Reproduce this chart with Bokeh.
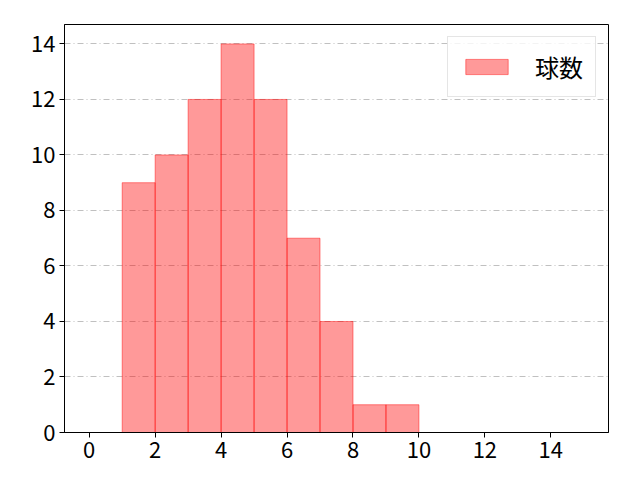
from bokeh.plotting import figure
from bokeh.models import Range1d, FixedTicker, Legend, LegendItem
from bokeh.embed import file_html
from bokeh.resources import INLINE

bin_left = [1, 2, 3, 4, 5, 6, 7, 8, 9]
bin_right = [2, 3, 4, 5, 6, 7, 8, 9, 10]
counts = [9, 10, 12, 14, 12, 7, 4, 1, 1]
x_ticks = [0, 2, 4, 6, 8, 10, 12, 14]
y_ticks = [0, 2, 4, 6, 8, 10, 12, 14]
label = "球数"

FONT = "Noto Sans CJK JP"

p = figure(width=632, height=472, output_backend="svg", toolbar_location=None,
           x_range=Range1d(-0.75, 15.75), y_range=Range1d(0, 14.7),
           min_border_left=64, min_border_right=24, min_border_top=24, min_border_bottom=40)

r = p.quad(left=bin_left, right=bin_right, bottom=0, top=counts,
           fill_color="red", fill_alpha=0.4, line_color="red", line_alpha=0.45, line_width=1)

p.outline_line_color = "black"
p.outline_line_width = 1
p.outline_line_alpha = 1

p.xgrid.grid_line_color = None
p.ygrid.grid_line_color = "#b0b0b0"
p.ygrid.grid_line_dash = "6 3 1 3"
p.ygrid.grid_line_width = 0.8

for ax, ticks in ((p.xaxis[0], x_ticks), (p.yaxis[0], y_ticks)):
    ax.ticker = FixedTicker(ticks=ticks)
    ax.minor_tick_line_color = None
    ax.major_tick_in = 0
    ax.major_tick_out = 5
    ax.major_tick_line_color = "black"
    ax.axis_line_color = "black"
    ax.major_label_text_font = FONT
    ax.major_label_text_font_size = "22px"
    ax.major_label_text_color = "black"
    ax.major_label_standoff = 4

legend = Legend(items=[LegendItem(label=label, renderers=[r])], location="top_right",
                label_text_font=FONT, label_text_font_size="24px", label_text_color="black",
                border_line_color="#cccccc", border_line_width=1,
                background_fill_alpha=0.8, glyph_width=53, glyph_height=19,
                label_standoff=22, padding=12, margin=12, label_height=24)
p.add_layout(legend)

open("out.html", "w").write(file_html(p, INLINE))
